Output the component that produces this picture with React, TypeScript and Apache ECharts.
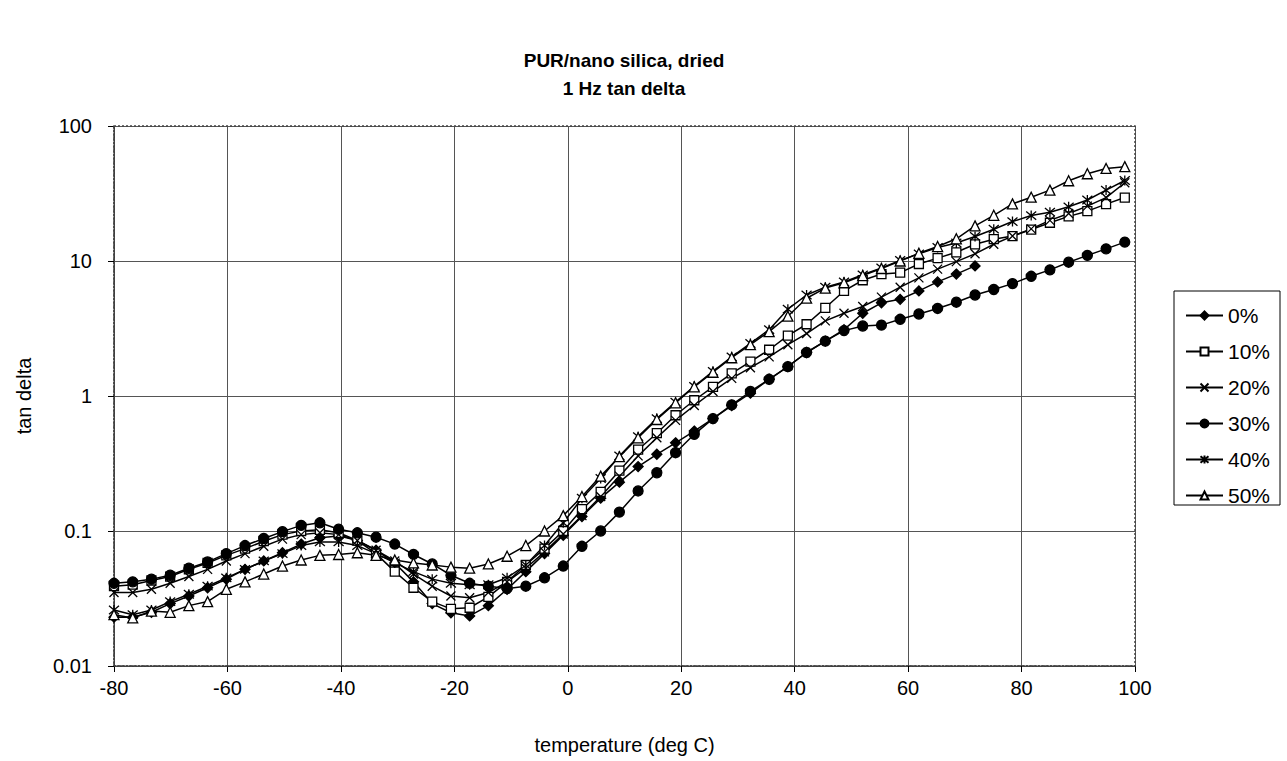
import React, { useEffect, useRef } from "react";
import * as echarts from "echarts";

// Temperatures (deg C) of the measured points
const temps = [
  -80, -76.7, -73.4, -70.1, -66.8, -63.5, -60.2, -56.9, -53.6, -50.3,
  -47, -43.7, -40.4, -37.1, -33.8, -30.5, -27.2, -23.9, -20.6, -17.3,
  -14, -10.7, -7.4, -4.1, -0.8, 2.5, 5.8, 9.1, 12.4, 15.7,
  19, 22.3, 25.6, 28.9, 32.2, 35.5, 38.8, 42.1, 45.4, 48.7,
  52, 55.3, 58.6, 61.9, 65.2, 68.5, 71.8, 75.1, 78.4, 81.7,
  85, 88.3, 91.6, 94.9, 98.2,
];

const pct0 = [
  0.023, 0.023, 0.025, 0.029, 0.033, 0.038, 0.044, 0.052, 0.06, 0.069,
  0.08, 0.089, 0.092, 0.085, 0.072, 0.058, 0.042, 0.029, 0.0248, 0.0235,
  0.028, 0.037, 0.05, 0.068, 0.093, 0.128, 0.175, 0.23, 0.3, 0.37,
  0.45, 0.55, 0.68, 0.85, 1.05, 1.33, 1.65, 2.1, 2.55, 3.1,
  4.1, 4.9, 5.2, 6.0, 7.0, 8.0, 9.2,
];

const pct10 = [
  0.039, 0.04, 0.043, 0.046, 0.052, 0.058, 0.066, 0.074, 0.084, 0.094,
  0.1, 0.102, 0.097, 0.085, 0.068, 0.05, 0.038, 0.03, 0.0265, 0.027,
  0.0325, 0.042, 0.056, 0.074, 0.1, 0.145, 0.195, 0.28, 0.4, 0.53,
  0.72, 0.93, 1.17, 1.47, 1.8, 2.2, 2.8, 3.4, 4.5, 6.0,
  7.2, 8.0, 8.2, 9.5, 10.5, 11.6, 13.3, 14.5, 15.3, 17.1,
  19.2, 21.4, 23.4, 26.4, 29.5,
];

const pct20 = [
  0.035, 0.035, 0.037, 0.041, 0.046, 0.052, 0.06, 0.068, 0.077, 0.087,
  0.094, 0.097, 0.094, 0.085, 0.072, 0.06, 0.048, 0.039, 0.033, 0.032,
  0.035, 0.042, 0.053, 0.07, 0.095, 0.13, 0.18, 0.255, 0.36, 0.49,
  0.66, 0.85, 1.08, 1.35, 1.62, 1.95, 2.4, 2.9, 3.6, 4.1,
  4.6, 5.4, 6.4, 7.5, 8.7, 9.9, 11.3, 13.3, 15.3, 17.3,
  20, 22.5, 25.5, 29.5, 38,
];

const pct30 = [
  0.041, 0.042, 0.044, 0.047, 0.053, 0.059, 0.068, 0.078, 0.088, 0.099,
  0.11, 0.115, 0.103, 0.097, 0.09, 0.08, 0.067, 0.057, 0.047, 0.041,
  0.039, 0.0375, 0.039, 0.045, 0.055, 0.077, 0.1, 0.138, 0.198, 0.27,
  0.38, 0.52, 0.68, 0.86, 1.08, 1.33, 1.65, 2.1, 2.55, 3.05,
  3.3, 3.35, 3.7, 4.05, 4.45, 4.95, 5.6, 6.15, 6.8, 7.7,
  8.6, 9.8, 11.0, 12.3, 13.8,
];

const pct40 = [
  0.026, 0.024, 0.026, 0.03, 0.034, 0.039, 0.045, 0.052, 0.06, 0.068,
  0.078, 0.083, 0.083, 0.078, 0.068, 0.058, 0.05, 0.044, 0.041, 0.04,
  0.04, 0.045, 0.056, 0.078, 0.115, 0.175, 0.245, 0.36, 0.5, 0.68,
  0.9, 1.18, 1.52, 1.95, 2.45, 3.1, 4.4, 5.6, 6.4, 7.0,
  7.9, 8.9, 10.1, 11.3, 12.6, 13.6, 15.2, 17.2, 19.6, 21.7,
  23, 25.2, 28.3, 33.5, 39.5,
];

const pct50 = [
  0.024, 0.0227, 0.0255, 0.025, 0.028, 0.03, 0.037, 0.042, 0.048, 0.055,
  0.061, 0.066, 0.067, 0.069, 0.066, 0.061, 0.058, 0.056, 0.054, 0.053,
  0.057, 0.065, 0.078, 0.1, 0.13, 0.18, 0.255, 0.355, 0.49, 0.67,
  0.89, 1.17, 1.5, 1.92, 2.4, 3.0, 3.9, 5.3, 6.3, 6.9,
  7.8, 8.8, 10.0, 11.4, 12.8, 14.6, 18.2, 21.8, 26.5, 29.7,
  33.5, 39.3, 44.3, 48.5, 50,
];

const seriesNames = ["0%", "10%", "20%", "30%", "40%", "50%"];
const seriesValues = [pct0, pct10, pct20, pct30, pct40, pct50];
const yTickLabels = ["0.01", "0.1", "1", "10", "100"];

const FONT = "'Liberation Sans', Arial, Helvetica, sans-serif";

const X_PATH = "path://M0,0L10,10M10,0L0,10";
const STAR_PATH = "path://M0,0L10,10M10,0L0,10M5,-1L5,11";

const symbolDefs = [
  { symbol: "diamond", size: 10, fill: "#000" },
  { symbol: "rect", size: 9, fill: "#fff" },
  { symbol: X_PATH, size: 9, fill: "#000" },
  { symbol: "circle", size: 10, fill: "#000" },
  { symbol: STAR_PATH, size: 10, fill: "#000" },
  { symbol: "triangle", size: 10, fill: "#fff" },
];

export default function App() {
  const ref = useRef<HTMLDivElement>(null);

  useEffect(() => {
    if (!ref.current) return;
    const chart = echarts.init(ref.current, null, { renderer: "svg" });
    const gridL = 114, gridT = 126, gridW = 1021, gridH = 540;

    const series = seriesNames.map((name, k) => ({
      name,
      type: "line",
      data: seriesValues[k].map((v, i) => [temps[i], v]),
      symbol: symbolDefs[k].symbol,
      symbolSize: symbolDefs[k].size,
      showSymbol: true,
      lineStyle: { color: "#000", width: 1.5 },
      itemStyle: {
        color: symbolDefs[k].fill,
        borderColor: "#000",
        borderWidth: 1.3,
      },
      emphasis: { disabled: true },
    }));

    chart.setOption({
      animation: false,
      backgroundColor: "#fff",
      textStyle: { fontFamily: FONT },
      grid: {
        left: gridL,
        top: gridT,
        width: gridW,
        height: gridH,
        containLabel: false,
        outerBoundsMode: "none",
      },
      legend: {
        data: seriesNames,
        orient: "vertical",
        left: 1180,
        top: 300,
        itemWidth: 37,
        itemHeight: 10,
        itemGap: 15,
        textStyle: { fontSize: 21, color: "#000", fontFamily: FONT },
      },
      xAxis: {
        type: "value",
        min: -80,
        max: 100,
        interval: 20,
        name: "temperature (deg C)",
        nameLocation: "middle",
        nameGap: 69,
        nameTextStyle: { fontSize: 20, color: "#000", fontFamily: FONT },
        axisLine: { show: true, onZero: false, lineStyle: { color: "#333", type: "dotted", width: 1.5 } },
        axisTick: { show: true, length: 6, lineStyle: { color: "#000" } },
        axisLabel: { fontSize: 20, color: "#000", margin: 12, fontFamily: FONT },
        splitLine: { show: true, lineStyle: { color: "#555", width: 1 } },
      },
      yAxis: {
        type: "log",
        logBase: 10,
        min: 0.01,
        max: 100,
        name: "tan delta",
        nameLocation: "middle",
        nameGap: 80,
        nameTextStyle: { fontSize: 20, color: "#000", fontFamily: FONT },
        axisLine: { show: true, onZero: false, lineStyle: { color: "#333", type: "dotted", width: 1.5 } },
        axisTick: { show: true, length: 6, lineStyle: { color: "#000" } },
        axisLabel: {
          fontSize: 20,
          color: "#000",
          margin: 22,
          fontFamily: FONT,
          formatter: (v: number) => yTickLabels[Math.round(Math.log10(v)) + 2] ?? String(v),
        },
        minorTick: { show: false },
        splitLine: { show: true, lineStyle: { color: "#555", width: 1 } },
      },
      graphic: [
        {
          type: "text",
          x: 624,
          y: 60,
          style: {
            text: "PUR/nano silica, dried",
            fontSize: 19,
            fontWeight: "bold",
            fontFamily: FONT,
            fill: "#000",
            textAlign: "center",
            textVerticalAlign: "middle",
          },
        },
        {
          type: "text",
          x: 624,
          y: 88,
          style: {
            text: "1 Hz tan delta",
            fontSize: 19,
            fontWeight: "bold",
            fontFamily: FONT,
            fill: "#000",
            textAlign: "center",
            textVerticalAlign: "middle",
          },
        },
        {
          type: "rect",
          shape: { x: gridL, y: gridT, width: gridW, height: gridH },
          style: { fill: "none", stroke: "#444", lineWidth: 1.5, lineDash: [2, 2] },
          silent: true,
          z: 1,
        },
        {
          type: "rect",
          shape: { x: 1174, y: 291, width: 106, height: 214 },
          style: { fill: "none", stroke: "#000", lineWidth: 1 },
          silent: true,
        },
      ],
      series,
    });

    return () => chart.dispose();
  }, []);

  return (
    <div
      ref={ref}
      style={{ position: "absolute", left: 0, top: 0, width: 1287, height: 761 }}
    />
  );
}
